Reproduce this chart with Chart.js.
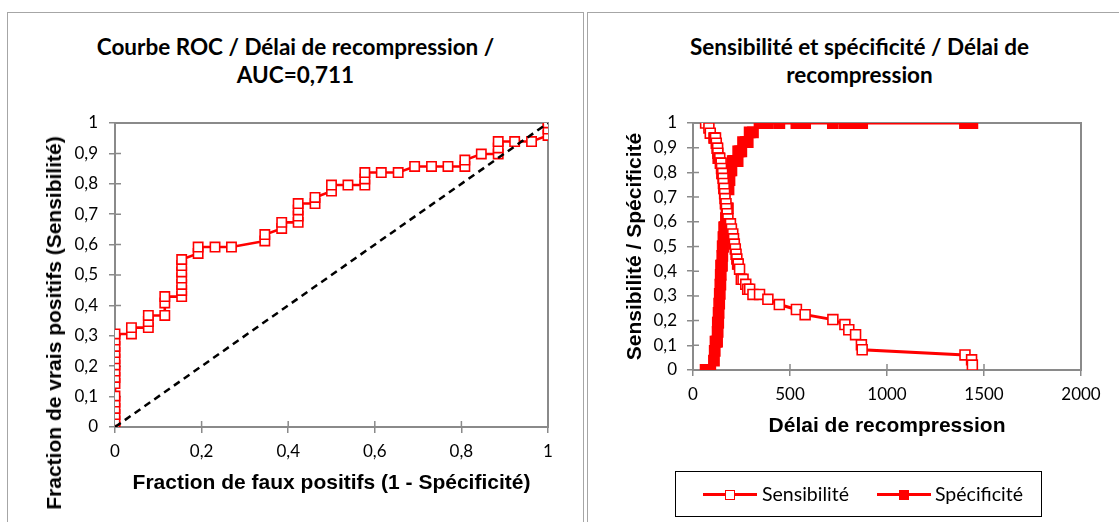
<!DOCTYPE html>
<html><head><meta charset="utf-8">
<script src="https://cdn.jsdelivr.net/npm/chart.js@4.4.1/dist/chart.umd.min.js"></script>
<style>
html,body{margin:0;padding:0;width:1119px;height:522px;overflow:hidden;background:#fff;}
.box{position:absolute;border:1px solid #a6a6a6;box-sizing:border-box;}
.title{position:absolute;font-family:Lato,"Noto Sans",sans-serif;font-weight:700;font-size:22.5px;line-height:28px;text-align:center;color:#000;}
canvas{position:absolute;}
.ytitle{position:absolute;font-family:"Liberation Sans",Arial,sans-serif;font-weight:700;font-size:21px;line-height:24px;white-space:nowrap;color:#000;transform:translate(-50%,-50%) rotate(-90deg);}
.legend{position:absolute;border:1.5px solid #000;box-sizing:border-box;}
.lline{position:absolute;height:3px;background:#ff0000;}
.lmark{position:absolute;width:10px;height:10px;box-sizing:border-box;border:1.6px solid #ff0000;}
.ltext{position:absolute;font-family:Lato,"Noto Sans",sans-serif;font-size:19.5px;line-height:24px;color:#000;white-space:nowrap;}
</style>
</head><body>
<div class="box" style="left:7px;top:12px;width:577px;height:530px;"></div>
<div class="box" style="left:587px;top:12px;width:545px;height:530px;"></div>
<div class="title" id="t1" style="left:7px;top:33px;width:577px;"></div>
<div class="title" id="t2" style="left:587px;top:33px;width:545px;"></div>
<canvas id="c1" width="574" height="509" style="left:8px;top:13px;width:574px;height:509px;"></canvas>
<canvas id="c2" width="531" height="509" style="left:588px;top:13px;width:531px;height:509px;"></canvas>
<div class="ytitle" id="y1" style="left:54px;top:323px;"></div>
<div class="legend" style="left:675px;top:471px;width:367px;height:46px;"></div>
<div id="leg"></div>
<script>
// ---------- Data ----------
const title1 = ["Courbe ROC / Délai de recompression /", "AUC=0,711"];
const title2 = ["Sensibilité et spécificité / Délai de", "recompression"];

const rocXTitle = "Fraction de faux positifs (1 - Spécificité)";
const rocYTitle = "Fraction de vrais positifs (Sensibilité)";
const delayXTitle = "Délai de recompression";
const delayYTitle = "Sensibilité / Spécificité";

const rocXTicks = ["0", "0,2", "0,4", "0,6", "0,8", "1"];
const rocYTicks = ["0", "0,1", "0,2", "0,3", "0,4", "0,5", "0,6", "0,7", "0,8", "0,9", "1"];
const delayXTicks = ["0", "500", "1000", "1500", "2000"];
const delayYTicks = ["0", "0,1", "0,2", "0,3", "0,4", "0,5", "0,6", "0,7", "0,8", "0,9", "1"];

// ROC curve: false positive fraction (1 - specificity) and true positive fraction
const rocFpr = [0,0,0,0,0,0,0,0,0,0,0,0,0,0,0,
  0.038,0.038, 0.077,0.077,0.077, 0.115,0.115,0.115,
  0.154,0.154,0.154,0.154,0.154,0.154,0.154,
  0.192,0.192, 0.231, 0.269, 0.346,0.346, 0.385,0.385,
  0.423,0.423,0.423,0.423, 0.462,0.462, 0.5,0.5, 0.538,
  0.577,0.577,0.577, 0.615, 0.654, 0.692, 0.731, 0.769,
  0.808,0.808, 0.846, 0.885,0.885,0.885, 0.923, 0.962, 1,1,1];
const rocTpr = [0,0.020,0.041,0.061,0.082,0.102,0.143,0.163,0.184,0.204,0.224,0.245,0.265,0.286,0.306,
  0.306,0.327, 0.327,0.347,0.367, 0.367,0.408,0.429,
  0.429,0.449,0.469,0.490,0.510,0.531,0.551,
  0.571,0.592, 0.592, 0.592, 0.612,0.633, 0.653,0.673,
  0.673,0.694,0.714,0.735, 0.735,0.755, 0.776,0.796, 0.796,
  0.796,0.816,0.837, 0.837, 0.837, 0.857, 0.857, 0.857,
  0.857,0.878, 0.898, 0.898,0.918,0.939, 0.939, 0.939, 0.959,0.980,1];
const diagX = [0, 1];
const diagY = [0, 1];

// Sensitivity / specificity vs recompression delay
const delays = [65,82,89,108,112,116,120,124,127,128,
  130,132,135,138,141,143,145,147,149,151,
  153,155,157,159,161,163,165,167,170,172,
  176,180,183,188,193,198,205,209,213,218,
  222,226,230,233,240,249,258,272,282,292,
  309,343,386,445,533,578,721,783,803,838,
  868,872,1402,1436,1440];
const sensitivity = [1,0.980,0.959,0.939,0.939,0.939,0.918,0.898,0.898,0.878,
  0.857,0.857,0.857,0.857,0.837,0.837,0.837,0.816,0.796,0.796,
  0.796,0.776,0.755,0.735,0.735,0.714,0.694,0.673,0.673,0.653,
  0.633,0.612,0.592,0.592,0.592,0.571,0.551,0.531,0.510,0.490,
  0.469,0.449,0.429,0.429,0.408,0.367,0.367,0.347,0.327,0.327,
  0.306,0.306,0.286,0.265,0.245,0.224,0.204,0.184,0.163,0.143,
  0.102,0.082,0.061,0.041,0.020];
const specificity = [0,0,0,0.038,0.077,0.115,0.115,0.115,0.154,0.192,
  0.192,0.231,0.269,0.308,0.346,0.385,0.423,0.423,0.423,0.462,
  0.5,0.5,0.538,0.538,0.577,0.577,0.577,0.577,0.615,0.615,
  0.654,0.654,0.731,0.769,0.808,0.808,0.846,0.846,0.846,0.846,
  0.846,0.846,0.846,0.885,0.885,0.885,0.923,0.923,0.923,0.962,
  0.962,1,1,1,1,1,1,1,1,1,
  1,1,1,1,1];
const seriesNames = ["Sensibilité", "Spécificité"];

// ---------- Styles ----------
const RED = '#ff0000';
const AXIS = '#8a8a8a';
const TICK_IN = 6;
const tickFont = {family: 'Lato', size: 17};
const axisTitleFont = {family: 'Liberation Sans', size: 21, weight: 'bold'};

document.getElementById('t1').innerHTML = title1.join('<br>');
document.getElementById('t2').innerHTML = title2.join('<br>');
document.getElementById('y1').textContent = rocYTitle;

const zip = (xs, ys) => xs.map((x, i) => ({x, y: ys[i]}));

// plot-area frame and the inner half of the crossing tick marks
const frame = {
  id: 'frame',
  beforeDatasetsDraw(chart) {
    const {ctx, chartArea: a, scales} = chart;
    ctx.save();
    ctx.strokeStyle = AXIS;
    ctx.lineWidth = 2;
    ctx.strokeRect(a.left, a.top, a.right - a.left, a.bottom - a.top);
    ctx.beginPath();
    scales.x.ticks.forEach(t => {
      const px = scales.x.getPixelForValue(t.value);
      ctx.moveTo(px, a.bottom); ctx.lineTo(px, a.bottom - TICK_IN);
    });
    scales.y.ticks.forEach(t => {
      const py = scales.y.getPixelForValue(t.value);
      ctx.moveTo(a.left, py); ctx.lineTo(a.left + TICK_IN, py);
    });
    ctx.lineWidth = 1.5;
    ctx.stroke();
    ctx.restore();
  }
};

function axis(min, max, step, labels, pad, extra) {
  return Object.assign({
    type: 'linear', min, max,
    ticks: {stepSize: step, autoSkip: false, maxRotation: 0, padding: pad, color: '#000', font: tickFont,
      callback: (v, i) => labels[i]},
    grid: {drawOnChartArea: false, drawTicks: true, tickLength: 6, color: AXIS, lineWidth: 1.5},
    border: {color: AXIS, width: 2}
  }, extra);
}

Chart.defaults.animation = false;

new Chart(document.getElementById('c1'), {
  type: 'scatter',
  data: {datasets: [
    {data: zip(diagX, diagY), showLine: true, borderColor: '#000', borderWidth: 2.5, borderDash: [7, 5], pointRadius: 0, pointHoverRadius: 0},
    {data: zip(rocFpr, rocTpr), showLine: true, borderColor: RED, borderWidth: 2.6, pointStyle: 'rect', pointRadius: 6.6,
      pointBackgroundColor: '#fff', pointBorderColor: RED, pointBorderWidth: 1.6}
  ]},
  options: {
    responsive: false, animation: false,
    layout: {padding: {top: 110, right: 34, left: 0, bottom: 0}},
    plugins: {legend: {display: false}, tooltip: {enabled: false}},
    scales: {
      x: axis(0, 1, 0.2, rocXTicks, 8, {
        title: {display: true, text: rocXTitle, color: '#000', font: axisTitleFont, padding: {top: 0, bottom: 26}},
        afterFit(s) { s.height = 95; }
      }),
      y: axis(0, 1, 0.1, rocYTicks, 11, {afterFit(s) { s.width = 107; }})
    }
  },
  plugins: [frame]
});

new Chart(document.getElementById('c2'), {
  type: 'scatter',
  data: {datasets: [
    {label: seriesNames[0], data: zip(delays, sensitivity), showLine: true, borderColor: RED, borderWidth: 3, pointStyle: 'rect', pointRadius: 7,
      pointBackgroundColor: '#fff', pointBorderColor: RED, pointBorderWidth: 1.6},
    {label: seriesNames[1], data: zip(delays, specificity), showLine: true, borderColor: RED, borderWidth: 3, pointStyle: 'rect', pointRadius: 7.2,
      pointBackgroundColor: RED, pointBorderColor: RED, pointBorderWidth: 1.6}
  ]},
  options: {
    responsive: false, animation: false,
    layout: {padding: {top: 110, right: 38, left: 0, bottom: 0}},
    plugins: {legend: {display: false}, tooltip: {enabled: false}},
    scales: {
      x: axis(0, 2000, 500, delayXTicks, 8, {
        title: {display: true, text: delayXTitle, color: '#000', font: axisTitleFont, padding: {top: 0, bottom: 83}},
        afterFit(s) { s.height = 152; }
      }),
      y: axis(0, 1, 0.1, delayYTicks, 10, {
        title: {display: true, text: delayYTitle, color: '#000', font: axisTitleFont, padding: {top: 35, bottom: 0}},
        afterFit(s) { s.width = 105; }
      })
    }
  },
  plugins: [frame]
});

// HTML legend (line sample + marker + label)
const leg = document.getElementById('leg');
const legPos = [{line: 703, text: 762}, {line: 877, text: 935}];
seriesNames.forEach((name, i) => {
  const p = legPos[i];
  const l = document.createElement('div'); l.className = 'lline';
  l.style.left = p.line + 'px'; l.style.top = '493px'; l.style.width = '54px'; leg.appendChild(l);
  const m = document.createElement('div'); m.className = 'lmark';
  m.style.left = (p.line + 22) + 'px'; m.style.top = '489.5px';
  m.style.background = i === 0 ? '#fff' : RED; leg.appendChild(m);
  const t = document.createElement('div'); t.className = 'ltext';
  t.style.left = p.text + 'px'; t.style.top = '482px'; t.textContent = name; leg.appendChild(t);
});
</script>
</body></html>
